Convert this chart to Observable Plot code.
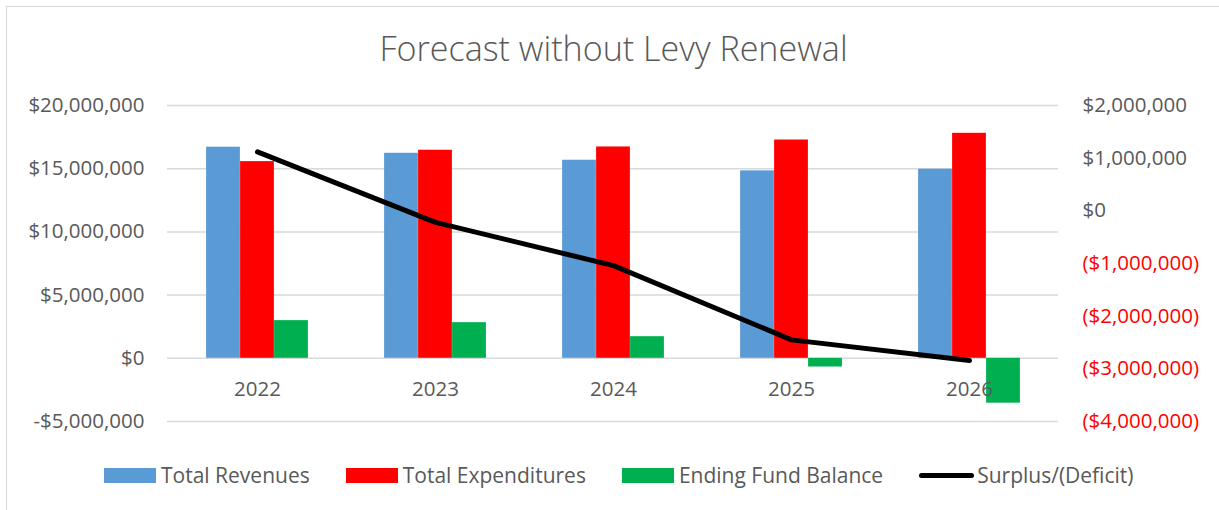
<!DOCTYPE html>
<html>
<head>
<meta charset="utf-8">
<script src="https://cdn.jsdelivr.net/npm/d3@7"></script>
<script src="https://cdn.jsdelivr.net/npm/@observablehq/plot@0.6"></script>
<style>
  body { margin: 0; background: #fff; font-family: "Open Sans", sans-serif; }
  #wrap { position: relative; width: 1219px; height: 510px; overflow: hidden; background: #fff; }
  #frame { position: absolute; left: 6px; top: 6px; width: 1300px; height: 600px; border: 1.5px solid #d9d9d9; box-sizing: border-box; }
  #title { position: absolute; left: 4px; top: 31px; width: 1219px; text-align: center; font-size: 34.1px; line-height: 1; color: #595959; font-weight: 300; white-space: nowrap; }
  #chart { position: absolute; left: 0; top: 80px; }
  #legend { position: absolute; left: 104px; top: 463px; display: flex; align-items: center; gap: 36px; font-size: 21px; color: #595959; line-height: 24px; white-space: nowrap; }
  .item { display: flex; align-items: center; }
  .sw { width: 52px; height: 15px; margin-right: 5px; }
  .ln { width: 55px; height: 5px; border-radius: 3px; margin-right: 3px; }
</style>
</head>
<body>
<div id="wrap">
  <div id="frame"></div>
  <div id="title">Forecast without Levy Renewal</div>
  <div id="chart"></div>
  <div id="legend"></div>
</div>
<script>
// ---- data ----
const years = ["2022", "2023", "2024", "2025", "2026"];
const totalRevenues = [16700000, 16220000, 15670000, 14830000, 14960000];
const totalExpenditures = [15560000, 16460000, 16720000, 17270000, 17800000];
const endingFundBalance = [2980000, 2820000, 1710000, -690000, -3550000];
const surplusDeficit = [1120000, -220000, -1040000, -2450000, -2840000];
const leftTicks = [-5000000, 0, 5000000, 10000000, 15000000, 20000000];
const rightTicks = [-4000000, -3000000, -2000000, -1000000, 0, 1000000, 2000000];
const seriesNames = ["Total Revenues", "Total Expenditures", "Ending Fund Balance", "Surplus/(Deficit)"];
const seriesColors = ["#5B9BD5", "#FF0000", "#00B050", "#000000"];

// ---- layout ----
const W = 1219, H = 365, ML = 167, MR = 161, MT = 25, MB = 24;
const leftDomain = [-5000000, 20000000];
const rightDomain = [-4000000, 2000000];
const toLeft = r => leftDomain[0] + (r - rightDomain[0]) * (leftDomain[1] - leftDomain[0]) / (rightDomain[1] - rightDomain[0]);

const step = (W - ML - MR) / years.length;
const barW = 34;
const outer = (step - 3 * barW) / 2;

const barSeries = [totalRevenues, totalExpenditures, endingFundBalance];
const barMarks = barSeries.map((vals, k) =>
  Plot.barY(years.map((y, i) => ({year: y, value: vals[i]})), {
    x: "year", y: "value", fill: seriesColors[k],
    insetLeft: outer + k * barW, insetRight: step - outer - (k + 1) * barW
  })
);

const lineData = years.map((y, i) => ({year: y, value: toLeft(surplusDeficit[i])}));

const fmtMoney = d3.format("$,");
const fmtLeft = v => v < 0 ? "-" + fmtMoney(-v) : fmtMoney(v);
const fmtRight = v => v < 0 ? "(" + fmtMoney(-v) + ")" : fmtMoney(v);

const chart = Plot.plot({
  width: W, height: H,
  marginLeft: ML, marginRight: MR, marginTop: MT, marginBottom: MB,
  style: {fontFamily: "'Open Sans', sans-serif", fontSize: "20.5px", color: "#595959", background: "transparent", overflow: "visible"},
  x: {type: "band", domain: years, padding: 0, axis: null},
  y: {domain: leftDomain, axis: null},
  marks: [
    Plot.ruleY(leftTicks, {y: d => d, stroke: "#d9d9d9", strokeWidth: 1.5}),
    ...barMarks,
    Plot.text(leftTicks, {y: d => d, frameAnchor: "left", dx: -23, textAnchor: "end", text: fmtLeft, fill: "#595959", fontSize: 20.5}),
    Plot.text(rightTicks.filter(d => d >= 0), {y: d => toLeft(d), frameAnchor: "right", dx: 24, textAnchor: "start", text: fmtRight, fill: "#595959", fontSize: 20.5}),
    Plot.text(rightTicks.filter(d => d < 0), {y: d => toLeft(d), frameAnchor: "right", dx: 24, textAnchor: "start", text: fmtRight, fill: "#FF0000", fontSize: 20.5}),
    Plot.text(years, {x: d => d, y: () => 0, dy: 31, text: d => d, fill: "#595959", fontSize: 20.5}),
    Plot.lineY(lineData, {x: "year", y: "value", stroke: "#000", strokeWidth: 5, strokeLinecap: "round", strokeLinejoin: "round"})
  ]
});
document.getElementById("chart").appendChild(chart);

// ---- legend ----
const legend = document.getElementById("legend");
seriesNames.forEach((name, k) => {
  const item = document.createElement("div");
  item.className = "item";
  const sw = document.createElement("div");
  sw.className = k === 3 ? "ln" : "sw";
  sw.style.background = seriesColors[k];
  const label = document.createElement("span");
  label.textContent = name;
  item.appendChild(sw);
  item.appendChild(label);
  legend.appendChild(item);
});
</script>
</body>
</html>
